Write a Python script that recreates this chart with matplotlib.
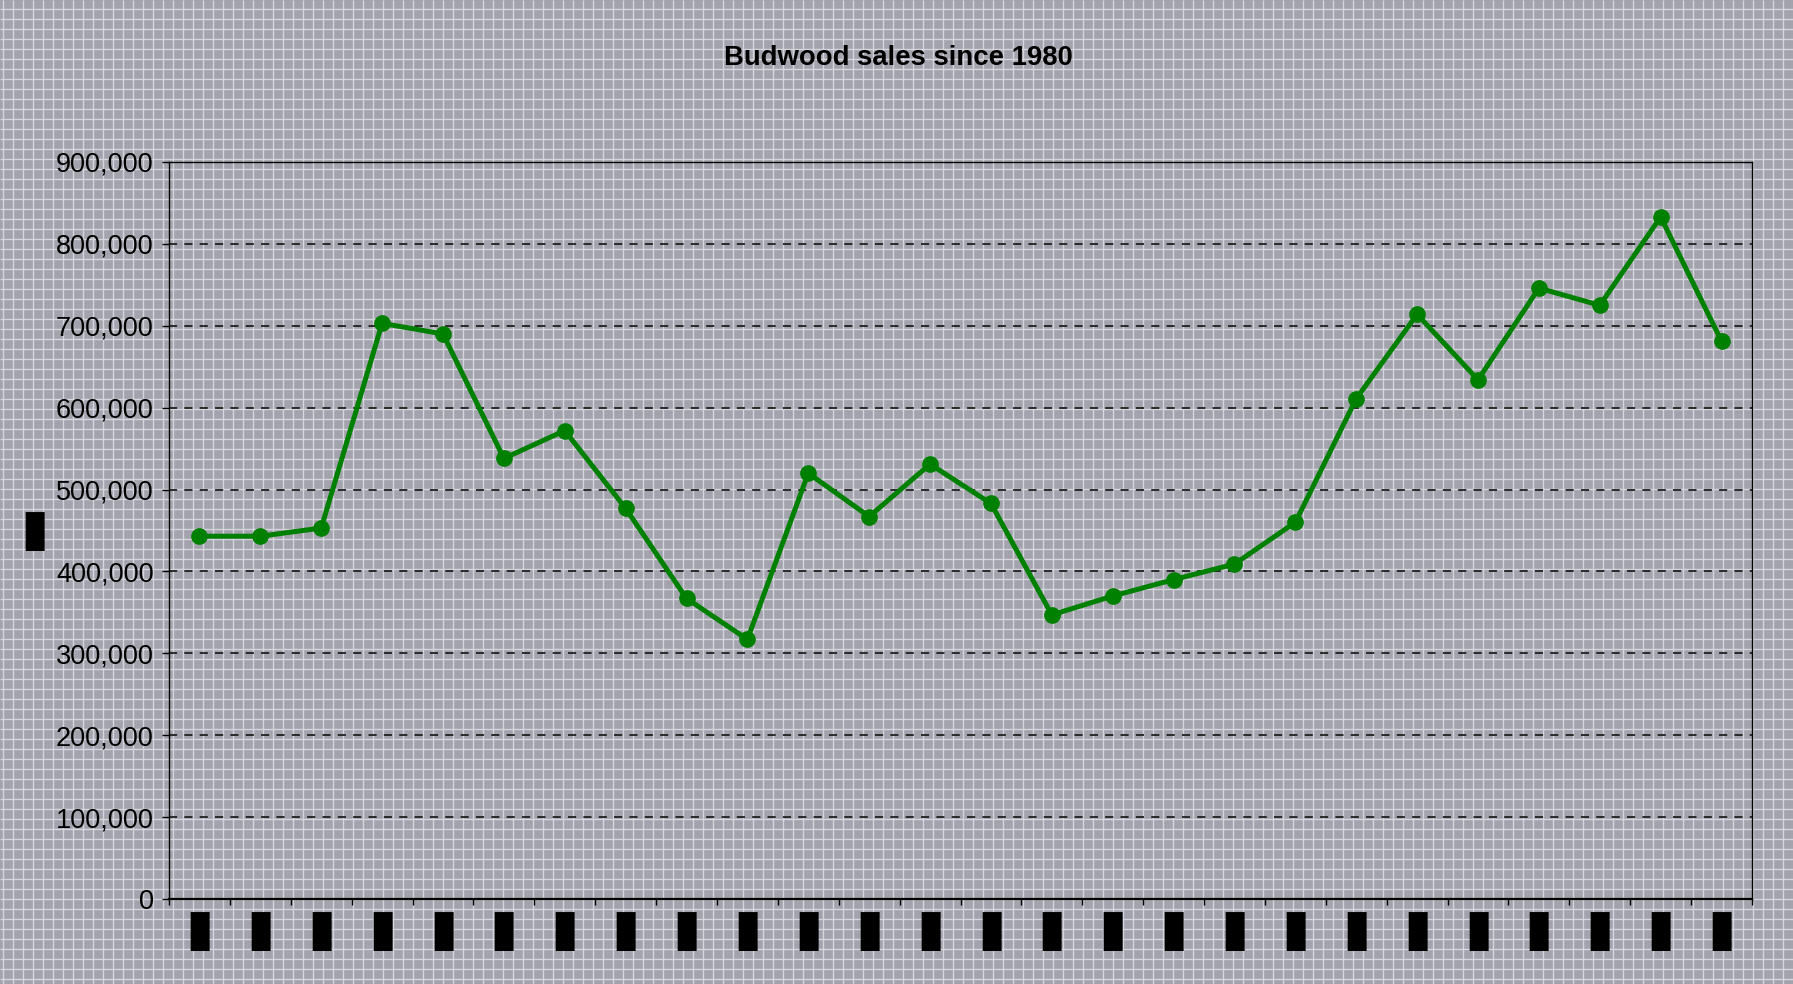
import numpy as np
import matplotlib.pyplot as plt
from matplotlib.ticker import FuncFormatter, FixedLocator

# datos (1980 - 2005)
anios = list(range(1980, 2006))
ventas = [443000, 443000, 453000, 703000, 690000, 538000, 572000, 477000,
          367000, 317000, 520000, 467000, 531000, 483000, 347000, 370000,
          390000, 409000, 460000, 611000, 714000, 634000, 746000, 725000,
          833000, 681000]
# las etiquetas del eje x salen como cajas negras en el original
etiquetas_x = ['\u25ae'] * len(anios)
titulo = 'Budwood sales since 1980'

W, H = 1793, 984
fig = plt.figure(figsize=(W / 100, H / 100), dpi=100, facecolor='#a3a3ad')

# fondo con cuadricula blanca fina
bg = fig.add_axes([0, 0, 1, 1], zorder=-1)
bg.set_xlim(0, W)
bg.set_ylim(0, H)
bg.vlines(np.arange(3, W, 10), 0, H, color='#d6d6de', lw=1.0)
bg.hlines(np.arange(5, H, 10), 0, W, color='#d6d6de', lw=1.0)
bg.set_facecolor('#a3a3ad')
bg.axis('off')

ax = fig.add_axes([169 / W, 85 / H, (1752 - 169) / W, (899 - 162) / H])
ax.set_facecolor('none')

x = np.arange(len(anios))
ax.plot(x, ventas, color='#008000', lw=3.6, marker='o', markersize=11, zorder=3)

ax.set_xlim(-0.5, len(anios) - 0.5)
ax.set_ylim(0, 900000)
ax.set_yticks(np.arange(0, 900001, 100000))
ax.yaxis.set_major_formatter(FuncFormatter(lambda v, p: f'{int(v):,}'))

ax.set_xticks(x)
ax.set_xticklabels(etiquetas_x, fontsize=37, family='DejaVu Sans')
ax.xaxis.set_minor_locator(FixedLocator(np.arange(-0.5, len(anios), 1)))
ax.tick_params(axis='x', which='major', length=0, pad=5)
ax.tick_params(axis='x', which='minor', length=4, width=1, direction='out')
ax.tick_params(axis='y', length=5, width=1, direction='out', pad=6,
               labelsize=19.5)
for lab in ax.get_yticklabels():
    lab.set_family('Liberation Sans')

ax.yaxis.grid(True, color='#202020', lw=1.3, dashes=(4.5, 4))
ax.set_axisbelow(True)
for s in ax.spines.values():
    s.set_linewidth(1)
ax.spines['bottom'].set_linewidth(1.6)

fig.text(898 / W, 1 - 58 / H, titulo, ha='center', va='center',
         fontsize=19.8, fontweight='bold', family='Liberation Sans')
fig.text(34.5 / W, 1 - 531 / H, '\u25ae', ha='center', va='center',
         fontsize=37, family='DejaVu Sans')

fig.savefig('out.png', dpi=100, facecolor=fig.get_facecolor())
